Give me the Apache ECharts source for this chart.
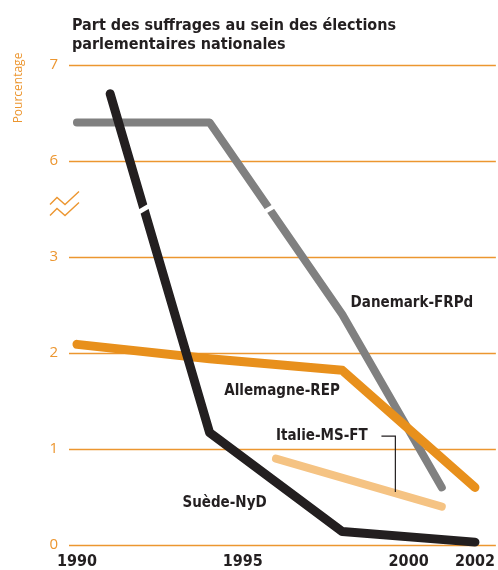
<!DOCTYPE html>
<html><head><meta charset="utf-8">
<script src="https://cdn.jsdelivr.net/npm/echarts@6/dist/echarts.min.js"></script>
<style>html,body{margin:0;padding:0;background:#fff}#c{width:498px;height:570px}</style>
</head><body><div id="c"></div>
<script>
// Data (percent of votes)
const danemarkYears = [1990, 1994, 1998, 2001];
const danemarkVals  = [6.4, 6.4, 2.4, 0.6];
const suedeYears = [1991, 1994, 1998, 2002];
const suedeVals  = [6.7, 1.17, 0.14, 0.03];
const allemagneYears = [1990, 1994, 1998, 2002];
const allemagneVals  = [2.09, 1.94, 1.82, 0.6];
const italieYears = [1996, 2001];
const italieVals  = [0.9, 0.4];
const xTickYears = [1990, 1995, 2000, 2002];
const yTickLabels = ['0', '1', '2', '3', '6', '7'];
const seriesNames = ['Danemark-FRPd', 'Allemagne-REP', 'Italie-MS-FT', 'Suède-NyD'];
// label anchors in data units [year, display value]
const labelAnchors = [[1998.25, 2.52], [1994.44, 1.6], [1996.0, 1.135], [1993.18, 0.438]];

// broken axis: 0..3 shown as is, 6..7 shown as 4..5
const toDisp = v => v <= 3 ? v : v - 2;
const pts = (xs, vs) => xs.map((x, i) => [x, toDisp(vs[i])]);

const ORANGE_AX = '#ec9630';
const FONT_B = 'DejaVu Sans Condensed';
const chart = echarts.init(document.getElementById('c'), null, {renderer: 'canvas'});
const lineS = (name, data, color, w) => ({
  type: 'line', name, data, symbol: 'none', silent: true,
  lineStyle: {color, width: w, cap: 'round', join: 'round'}, z: 3
});
chart.setOption({
  animation: false,
  grid: {left: 69, right: 0, top: 65, bottom: 25},
  title: {
    text: 'Part des suffrages au sein des élections\nparlementaires nationales',
    left: 67, top: 11,
    textStyle: {fontFamily: FONT_B, fontWeight: 'bold', fontSize: 16, lineHeight: 19, color: '#231f20'}
  },
  xAxis: {
    type: 'value', min: 1989.76, max: 2002.63,
    axisLine: {show: false}, axisTick: {show: false}, splitLine: {show: false},
    axisLabel: {customValues: xTickYears, formatter: v => String(v), fontFamily: FONT_B, fontWeight: 'bold', fontSize: 16, color: '#231f20', margin: 9}
  },
  yAxis: {
    type: 'value', min: 0, max: 5, interval: 1,
    axisLine: {show: false}, axisTick: {show: false},
    splitLine: {show: true, lineStyle: {color: [ORANGE_AX], width: 1.3, opacity: 1}},
    axisLabel: {formatter: v => yTickLabels[v], fontFamily: 'Open Sans', fontSize: 15, color: ORANGE_AX, margin: 11}
  },
  series: [
    lineS(seriesNames[0], pts(danemarkYears, danemarkVals), '#808080', 8),
    lineS(seriesNames[1], pts(allemagneYears, allemagneVals), '#e8901c', 9),
    lineS(seriesNames[2], pts(italieYears, italieVals), '#f5c383', 8),
    lineS(seriesNames[3], pts(suedeYears, suedeVals), '#231f20', 9)
  ]
});

// decorations
const g = [];
const P = (x, y) => chart.convertToPixel({gridIndex: 0}, [x, y]);
// series labels
seriesNames.forEach((n, i) => {
  const p = P(labelAnchors[i][0], labelAnchors[i][1]);
  g.push({type: 'text', x: p[0], y: p[1], z: 10, style: {text: n, fontFamily: FONT_B, fontWeight: 'bold', fontSize: 15, fill: '#231f20', align: 'left', verticalAlign: 'middle'}});
});
// callout for Italie
const c1 = P(1999.18, 1.135), c2 = P(1999.6, 1.135), c3 = P(1999.6, 0.552);
g.push({type: 'polyline', z: 10, shape: {points: [c1, c2, c3]}, style: {stroke: '#231f20', lineWidth: 1.2, fill: null}});
// axis break gaps on lines crossing display 3.5
const brk = 3.5;
[[danemarkYears, danemarkVals], [suedeYears, suedeVals]].forEach(([xs, vs]) => {
  const d = xs.map((x, i) => [x, toDisp(vs[i])]);
  for (let i = 0; i < d.length - 1; i++) {
    const [x0, y0] = d[i], [x1, y1] = d[i + 1];
    if ((y0 - brk) * (y1 - brk) < 0) {
      const xc = x0 + (brk - y0) / (y1 - y0) * (x1 - x0);
      const p = P(xc, brk);
      g.push({type: 'line', z: 20, shape: {x1: p[0] - 12, y1: p[1] + 7, x2: p[0] + 12, y2: p[1] - 7}, style: {stroke: '#fff', lineWidth: 4.5}});
    }
  }
});
// zigzag break symbol on axis
const b = P(1989.76, brk);
const zx = b[0] - 19, zy = b[1];
[-5.5, 5.5].forEach(off => {
  g.push({type: 'polyline', z: 10, shape: {points: [[zx, zy + off + 1], [zx + 7, zy + off - 6], [zx + 15, zy + off + 1], [zx + 29, zy + off - 12]]},
    style: {stroke: ORANGE_AX, lineWidth: 1.4, fill: null}});
});
// y axis title
g.push({type: 'text', x: 19, y: 88, rotation: Math.PI / 2, z: 10,
  style: {text: 'Pourcentage', fontFamily: 'Open Sans', fontSize: 12, fill: ORANGE_AX, align: 'center', verticalAlign: 'middle'}});
chart.setOption({graphic: g});
</script></body></html>
